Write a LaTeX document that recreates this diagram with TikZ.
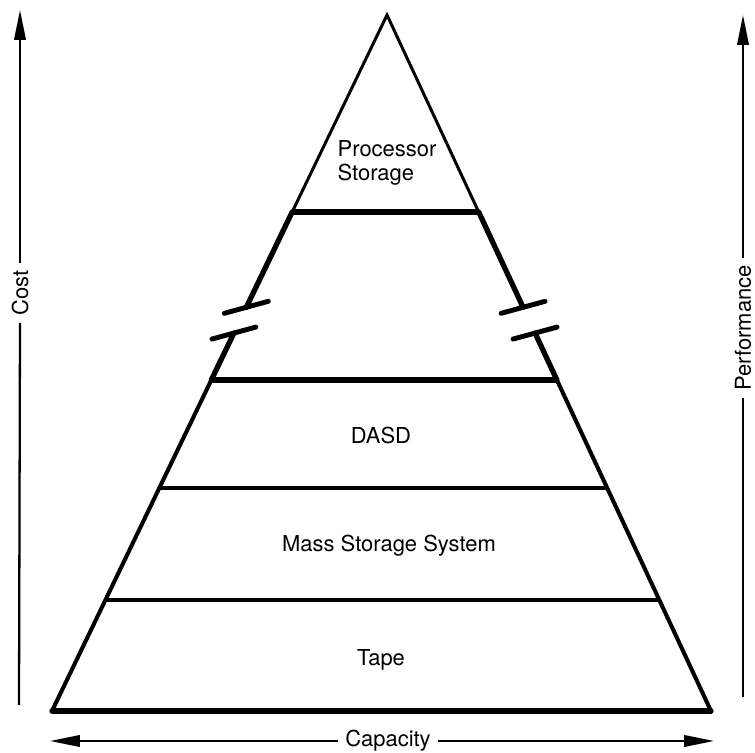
\documentclass[tikz,border=0pt]{standalone}
\usepackage{fontspec}
\setmainfont{TeX Gyre Heros}
\usepackage{tikz}
\usetikzlibrary{arrows.meta,calc}

\begin{document}
\begin{tikzpicture}[x=0.02cm, y=-0.02cm,
  font=\fontsize{12.5}{14}\selectfont,
  edge/.style={line width=1.7pt, line cap=round},
  boldedge/.style={line width=3pt, line cap=round},
  tier/.style={line width=2.3pt},
  boldtier/.style={line width=3pt},
  brk/.style={line width=2.8pt, line cap=round},
  lbl/.style={inner sep=0pt},
  axlbl/.style={inner xsep=4pt, inner ysep=0pt},
  axline/.style={line width=1.3pt},
  axis/.style={axline, -{Triangle[length=17pt, width=6.5pt]}}]
\useasboundingbox (0,0) rectangle (755,753);
% pyramid corners
\coordinate (apex) at (387,15);
\coordinate (bl) at (52,711);
\coordinate (br) at (711,711);
% points on the two sides
\foreach \t/\n in {0.283/a, 0.42/b, 0.457/c, 0.5244/d, 0.6796/e, 0.8405/f} {
  \coordinate (l\n) at ($(apex)!\t!(bl)$);
  \coordinate (r\n) at ($(apex)!\t!(br)$);
}
% sides
\draw[edge] (la) -- (apex) -- (ra);
\draw[boldedge] (la) -- (lb);
\draw[boldedge] (lc) -- (ld);
\draw[boldedge] (ra) -- (rb);
\draw[boldedge] (rc) -- (rd);
\draw[tier, line join=round] (ld) -- (bl);
\draw[tier, line join=round] (rd) -- (br);
% break marks
\foreach \p in {lb, lc, rb, rc}
  \draw[brk] ($(\p)+(-22,6)$) -- ($(\p)+(22,-6)$);
% levels
\draw[boldtier] (la) -- (ra);
\draw[boldtier] (ld) -- (rd);
\draw[tier] (le) -- (re);
\draw[tier] (lf) -- (rf);
\draw[boldtier, line cap=round] (bl) -- (br);
% level names
\node[lbl, align=left] (proc) at (387,163) {Processor\\Storage};
\node[lbl] (dasd) at (381,435) {DASD};
\node[lbl] (mss) at (389,546) {Mass Storage System};
\node[lbl] (tape) at (381,660) {Tape};
% axes
\node[axlbl, rotate=90] (cost) at (20,293) {Cost};
\coordinate (costtop) at (20,10);
\coordinate (costbot) at (19,705);
\draw[axis] (cost.east) -- (costtop);
\draw[axline] (cost.west) -- (costbot);
\node[axlbl, rotate=90] (perf) at (743,328) {Performance};
\coordinate (perftop) at (743,15);
\coordinate (perfbot) at (743,697);
\draw[axis] (perf.east) -- (perftop);
\draw[axline] (perf.west) -- (perfbot);
\node[axlbl] (cap) at (388,741) {Capacity};
\coordinate (capleft) at (50,741);
\coordinate (capright) at (714,741);
\draw[axis] (cap.west) -- (capleft);
\draw[axis] (cap.east) -- (capright);
\end{tikzpicture}
\end{document}
